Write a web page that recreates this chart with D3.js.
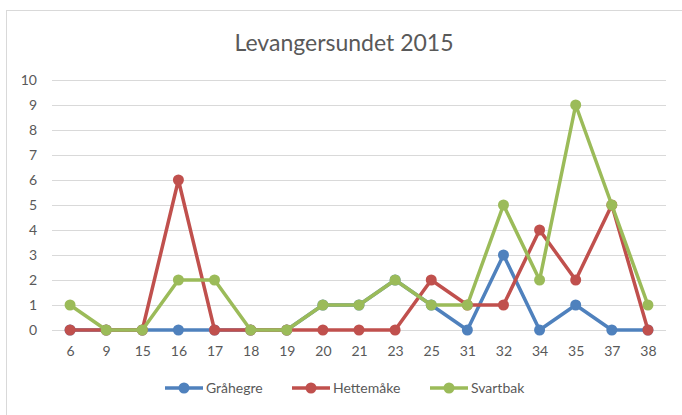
<!DOCTYPE html>
<html>
<head>
<meta charset="utf-8">
<script src="https://cdn.jsdelivr.net/npm/d3@7"></script>
<style>
  body { margin: 0; background: #fff; }
  svg { display: block; font-family: Lato, "Open Sans", sans-serif; }
</style>
</head>
<body>
<svg id="graph"></svg>
<script>
// data
var categories = ["6","9","15","16","17","18","19","20","21","23","25","31","32","34","35","37","38"];
var graahegre  = [0,0,0,0,0,0,0,1,1,2,1,0,3,0,1,0,0];
var hettemaake = [0,0,0,6,0,0,0,0,0,0,2,1,1,4,2,5,0];
var svartbak   = [1,0,0,2,2,0,0,1,1,2,1,1,5,2,9,5,1];
var seriesNames = ["Gråhegre","Hettemåke","Svartbak"];
var yTicks = [0,1,2,3,4,5,6,7,8,9,10];

var series = [
  {name: seriesNames[0], values: graahegre,  color: "#4F81BD"},
  {name: seriesNames[1], values: hettemaake, color: "#C0504D"},
  {name: seriesNames[2], values: svartbak,   color: "#9BBB59"}
];

var drawChart = function(svgSelector)
{
  var screen = {width: 682, height: 415};
  var margins = {top: 80, bottom: 85, left: 52, right: 16};

  var svg = d3.select(svgSelector)
              .attr("width", screen.width)
              .attr("height", screen.height);

  // chart border
  svg.append("rect")
     .attr("x", 6.5)
     .attr("y", 10.5)
     .attr("width", 700)
     .attr("height", 420)
     .attr("fill", "white")
     .style("stroke", "#D9D9D9")
     .style("stroke-width", 1);

  svg.append("text")
     .attr("x", 344)
     .attr("y", 51)
     .attr("text-anchor", "middle")
     .attr("font-size", 23)
     .attr("fill", "#595959")
     .text("Levangersundet 2015");

  var xScale = d3.scalePoint()
                 .domain(categories)
                 .range([margins.left, screen.width - margins.right])
                 .padding(0.5);

  var yScale = d3.scaleLinear()
                 .domain([0, 10])
                 .range([screen.height - margins.bottom, margins.top]);

  // gridlines
  svg.append("g")
     .selectAll("line")
     .data(yTicks)
     .enter()
     .append("line")
     .attr("x1", margins.left)
     .attr("x2", screen.width - margins.right)
     .attr("y1", function(d){ return Math.round(yScale(d)) + 0.5; })
     .attr("y2", function(d){ return Math.round(yScale(d)) + 0.5; })
     .style("stroke", "#D9D9D9")
     .style("stroke-width", 1);

  var yAxis = svg.append("g")
                 .attr("transform", "translate(" + (margins.left - 6) + ",0)")
                 .call(d3.axisLeft(yScale).tickValues(yTicks).tickSize(0).tickPadding(9));
  yAxis.select(".domain").remove();
  yAxis.selectAll("text").attr("font-size", 14).attr("fill", "#595959")
       .attr("font-family", "Lato, 'Open Sans', sans-serif");

  var xAxis = svg.append("g")
                 .attr("transform", "translate(0," + (screen.height - margins.bottom) + ")")
                 .call(d3.axisBottom(xScale).tickSize(0).tickPadding(16));
  xAxis.select(".domain").remove();
  xAxis.selectAll("text").attr("font-size", 14).attr("fill", "#595959")
       .attr("font-family", "Lato, 'Open Sans', sans-serif");

  var line = d3.line()
               .x(function(d, i){ return xScale(categories[i]); })
               .y(function(d){ return yScale(d); });

  var groups = svg.append("g")
                  .selectAll("g")
                  .data(series)
                  .enter()
                  .append("g");

  groups.append("path")
        .attr("d", function(s){ return line(s.values); })
        .attr("fill", "none")
        .style("stroke", function(s){ return s.color; })
        .style("stroke-width", 3.5)
        .style("stroke-linejoin", "round");

  groups.selectAll("circle")
        .data(function(s){ return s.values.map(function(v, i){ return {v: v, i: i, color: s.color}; }); })
        .enter()
        .append("circle")
        .attr("cx", function(d){ return xScale(categories[d.i]); })
        .attr("cy", function(d){ return yScale(d.v); })
        .attr("r", 5.5)
        .attr("fill", function(d){ return d.color; });

  // legend
  var legendX = [165, 292, 430];
  var legendY = 388;
  var legend = svg.append("g").selectAll("g")
                  .data(series)
                  .enter()
                  .append("g")
                  .attr("transform", function(s, i){ return "translate(" + legendX[i] + "," + legendY + ")"; });

  legend.append("line")
        .attr("x1", 0).attr("x2", 38)
        .attr("y1", 0).attr("y2", 0)
        .style("stroke", function(s){ return s.color; })
        .style("stroke-width", 3.5);
  legend.append("circle")
        .attr("cx", 19).attr("cy", 0).attr("r", 5.5)
        .attr("fill", function(s){ return s.color; });
  legend.append("text")
        .attr("x", 41)
        .attr("y", 5)
        .attr("font-size", 14)
        .attr("fill", "#595959")
        .text(function(s){ return s.name; });
}

drawChart("#graph");
</script>
</body>
</html>
